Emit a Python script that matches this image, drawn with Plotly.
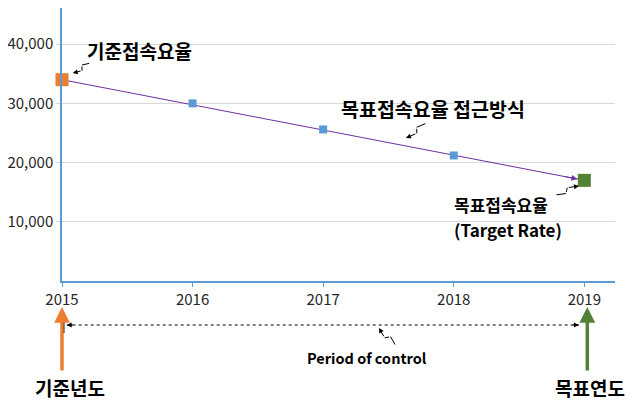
import plotly.graph_objects as go

# data
years = [2015, 2016, 2017, 2018, 2019]
rates = [34000, 30000, 25600, 21200, 17000]
y_ticks = [10000, 20000, 30000, 40000]
base_label = "기준접속요율"
target_label = "목표접속요율"
path_label = "목표접속요율 접근방식"
period_label = "Period of control"
base_year_label = "기준년도"
target_year_label = "목표연도"

FONT = "Noto Sans CJK KR"
BLUE = "#5B9BD5"
ORANGE = "#ED7D31"
GREEN = "#548235"
PURPLE = "#7030A0"

x_range = [2015, 2019.235]
y_range = [0, 46110]

# page body has an 8px margin, so the figure is sized to fit inside the window
W, H = 625, 395
ML, MR, MT, MB = 54, 18, 0, 122
PLOT_H = H - MT - MB


def py(screen_y):
    # screen pixel row -> paper fraction (x axis sits at row 281)
    return (281 - screen_y) / PLOT_H


fig = go.Figure()

# glide path line (base -> target)
fig.add_trace(go.Scatter(x=[years[0], years[-1]], y=[rates[0], rates[-1]], mode="lines",
                         line=dict(color=PURPLE, width=1), hoverinfo="skip", showlegend=False))
# intermediate years
fig.add_trace(go.Scatter(x=years[1:-1], y=rates[1:-1], mode="markers",
                         marker=dict(symbol="square", size=8, color=BLUE), showlegend=False))
# base and target points
fig.add_trace(go.Scatter(x=[years[0]], y=[rates[0]], mode="markers", cliponaxis=False,
                         marker=dict(symbol="square", size=13, color=ORANGE), showlegend=False))
fig.add_trace(go.Scatter(x=[years[-1]], y=[rates[-1]], mode="markers", cliponaxis=False,
                         marker=dict(symbol="square", size=13, color=GREEN), showlegend=False))

ann = []
shapes = []


def txt(x, y, s, size, yref="y", xanchor="center"):
    ann.append(dict(x=x, y=y, xref="x", yref=yref, text="<b>%s</b>" % s, showarrow=False,
                    xanchor=xanchor, yanchor="middle", font=dict(family=FONT, size=size, color="black")))


def seg(x, y, yref, p, q, head, color="black", width=1):
    # straight arrow from q to p, offsets in pixels relative to (x, y)
    ann.append(dict(x=x, y=y, xref="x", yref=yref, text="", showarrow=True,
                    xshift=p[0], yshift=-p[1], ax=q[0] - p[0], ay=q[1] - p[1],
                    arrowhead=head, arrowsize=1, arrowwidth=width, arrowcolor=color))


def bolt(x, y, dx, dy, yref="y"):
    # lightning style arrow; head at (x, y), tail at pixel offset (dx, dy)
    L = (dx * dx + dy * dy) ** 0.5
    nx, ny = -dy / L * 2.5, dx / L * 2.5
    a = (dx * 0.45 + nx, dy * 0.45 + ny)
    b = (dx * 0.58 - nx, dy * 0.58 - ny)
    seg(x, y, yref, b, (dx, dy), 0)
    seg(x, y, yref, a, b, 0)
    seg(x, y, yref, (0, 0), a, 2)


# labels
txt(2015.592, 38850, base_label, 19)
txt(2017.841, 29135, path_label, 19.5)
txt(2017.986, 13005, target_label, 17, xanchor="left")
txt(2017.986, 8783, "(Target Rate)", 17, xanchor="left")
txt(2017.339, py(357), period_label, 14.5, yref="paper")
txt(2015.063, py(387), base_year_label, 19, yref="paper")
txt(2019.047, py(387), target_year_label, 19, yref="paper")

# lightning pointers
bolt(2015.082, 35130, 18, -10)
bolt(2017.634, 24153, 21, -15)
bolt(2018.959, 16046, -24, 9)
bolt(2017.427, py(328), 17, 18, yref="paper")

# arrowhead at the end of the glide path
px_per_x = (W - ML - MR) / (x_range[1] - x_range[0])
px_per_y = PLOT_H / (y_range[1] - y_range[0])
dxp = (years[-1] - years[0]) * px_per_x
dyp = (rates[0] - rates[-1]) * px_per_y
ann.append(dict(x=years[-1], y=rates[-1], xref="x", yref="y", text="", showarrow=True,
                ax=-22, ay=-22 * dyp / dxp, standoff=7, arrowhead=2, arrowsize=1.2,
                arrowwidth=1, arrowcolor=PURPLE))

# base / target year arrows
ann.append(dict(x=years[0], y=py(307), xref="x", yref="paper", text="", showarrow=True,
                ax=0, ay=65, arrowhead=2, arrowsize=0.9, arrowwidth=3.5, arrowcolor=ORANGE))
ann.append(dict(x=years[-1] + 0.023, y=py(307), xref="x", yref="paper", text="", showarrow=True,
                ax=0, ay=65, arrowhead=2, arrowsize=0.9, arrowwidth=3.5, arrowcolor=GREEN))

# period of control (dotted, both ends)
shapes.append(dict(type="line", xref="x", yref="paper", x0=2015.036, x1=2018.959, y0=py(325), y1=py(325),
                   line=dict(color="black", width=1, dash="dot")))
ann.append(dict(x=2015.036, y=py(325), xref="x", yref="paper", text="", showarrow=True,
                ax=8, ay=0, arrowhead=2, arrowsize=1, arrowwidth=1, arrowcolor="black"))
ann.append(dict(x=2018.959, y=py(325), xref="x", yref="paper", text="", showarrow=True,
                ax=-8, ay=0, arrowhead=2, arrowsize=1, arrowwidth=1, arrowcolor="black"))
shapes.append(dict(type="line", xref="x", yref="paper", x0=2015.013, x1=2015.013, y0=py(319), y1=py(333),
                   line=dict(color="black", width=1.5)))

fig.update_layout(
    width=W, height=H,
    margin=dict(l=ML, r=MR, t=MT, b=MB),
    paper_bgcolor="white", plot_bgcolor="white",
    annotations=ann, shapes=shapes,
    font=dict(family=FONT, size=15, color="#262626"),
)
fig.update_xaxes(range=x_range, tickvals=years, showgrid=False, zeroline=False,
                 showline=True, linecolor=BLUE, linewidth=1.5,
                 ticks="outside", ticklen=4, tickcolor=BLUE, tickfont=dict(size=15, color="#262626"))
fig.update_yaxes(range=y_range, tickvals=y_ticks, tickformat=",", showgrid=True, gridcolor="#D9D9D9",
                 zeroline=False, showline=True, linecolor=BLUE, linewidth=1.5,
                 ticks="outside", ticklen=4, tickcolor="#D9D9D9", tickfont=dict(size=15, color="#262626"))

fig.write_html("out.html")
